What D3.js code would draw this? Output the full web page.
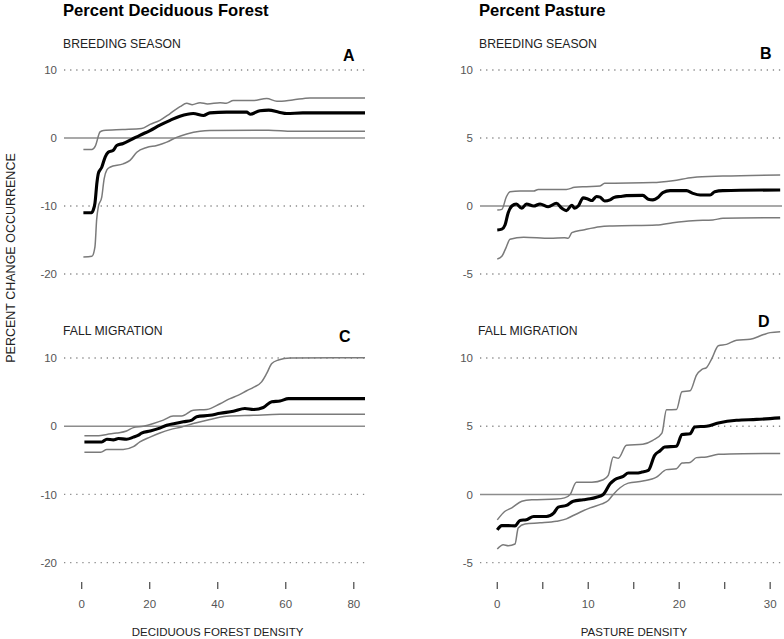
<!DOCTYPE html>
<html><head><meta charset="utf-8">
<script src="https://cdn.jsdelivr.net/npm/d3@7"></script>
<style>
html,body{margin:0;padding:0;background:#fff;}
text{font-family:"Liberation Sans",Arial,Helvetica,sans-serif;}
</style></head>
<body><svg id="chart" width="784" height="639"></svg>
<script>
// ---- data ----
const columnTitles = ["Percent Deciduous Forest", "Percent Pasture"];
const rowTitles = ["BREEDING SEASON", "FALL MIGRATION"];
const panelLetters = ["A", "B", "C", "D"];
const xAxisTitles = ["DECIDUOUS FOREST DENSITY", "PASTURE DENSITY"];
const yAxisTitle = "PERCENT CHANGE OCCURRENCE";
const forestYTicks = [-20, -10, 0, 10];
const pastureYTicks = [-5, 0, 5, 10];
const forestXTicks = [0, 20, 40, 60, 80];
const pastureXTickMarks = [0, 5, 10, 15, 20, 25, 30];
const pastureXTickLabels = [0, 10, 20, 30];

const aMean = [[0.5,-11.0],[2.9,-11.0],[3.4,-10.6],[3.9,-9.6],[4.5,-6.5],[4.9,-5.2],[5.9,-4.3],[6.9,-2.8],[7.8,-2.1],[9.3,-1.8],[10.3,-1.1],[12.2,-0.8],[14.7,-0.2],[17.1,0.4],[20.1,1.1],[23,1.9],[26,2.6],[28.9,3.2],[32.8,3.6],[35.8,3.3],[37.7,3.7],[42.6,3.8],[48.5,3.8],[49.5,3.5],[52.4,4.0],[55,4.1],[58,3.8],[60.3,3.6],[65,3.7],[83.3,3.7]];
const aUpper = [[0.5,-1.7],[3.0,-1.7],[4.0,-1.2],[5.4,0.9],[6.4,1.1],[12,1.25],[17.6,1.4],[20.1,2.0],[23,2.6],[26,3.6],[28.9,4.6],[30.9,5.1],[32.5,4.9],[34.8,5.2],[37,5.0],[40.7,5.2],[42.5,5.1],[44.6,5.5],[50.4,5.5],[54.4,5.8],[57.4,5.4],[62,5.6],[67.1,5.9],[83.3,5.9]];
const aLower = [[0.5,-17.5],[3.0,-17.4],[3.9,-16.0],[4.4,-12],[4.9,-10.1],[5.9,-8.7],[6.6,-6],[7.4,-4.7],[8.3,-4.3],[12.2,-3.8],[14.2,-3.3],[16.2,-2.1],[19.1,-1.4],[22.1,-1.1],[25,-0.6],[27.9,0.1],[30.9,0.6],[34.8,1.0],[37.7,1.1],[55,1.15],[62,1.0],[83.3,1.0]];

const bMean = [[0,-1.76],[0.5,-1.7],[0.85,-1.4],[1.2,-0.5],[1.6,0],[2.1,0.15],[2.7,-0.17],[3.2,0.15],[4.0,0],[4.7,0.15],[5.6,-0.05],[6.5,0.2],[7.1,-0.17],[7.6,-0.34],[8.2,0.05],[8.5,-0.17],[8.9,0],[9.45,0.6],[10.0,0.5],[10.4,0.4],[10.9,0.7],[11.3,0.65],[11.8,0.37],[12.4,0.45],[12.9,0.65],[13.5,0.7],[14.2,0.76],[16.0,0.78],[16.6,0.5],[17.1,0.45],[17.7,0.65],[18.2,0.98],[19.0,1.13],[20.8,1.13],[21.5,0.93],[22.3,0.81],[23.4,0.81],[23.9,1.05],[24.8,1.13],[31.1,1.18]];
const bUpper = [[0,-0.3],[0.5,-0.25],[1.0,0.68],[1.4,1.05],[2.5,1.1],[4.0,1.1],[4.5,1.22],[7.6,1.22],[8.5,1.37],[9.8,1.42],[11.3,1.47],[11.8,1.67],[17.1,1.72],[19.3,1.86],[21.5,2.1],[24.8,2.2],[31.1,2.28]];
const bLower = [[0,-3.9],[0.5,-3.7],[1.0,-3.0],[1.4,-2.45],[2.9,-2.3],[5.8,-2.38],[7.4,-2.33],[7.8,-2.38],[8.2,-1.96],[9.45,-1.76],[11.3,-1.52],[12.7,-1.47],[17.5,-1.4],[19.3,-1.23],[21.5,-1.08],[23.7,-1.03],[24.8,-0.9],[31.1,-0.86]];

const cMean = [[0.8,-2.3],[5.9,-2.3],[7.4,-1.9],[9.3,-2.0],[10.8,-1.8],[13.2,-1.9],[15.2,-1.6],[16.7,-1.3],[17.6,-1.0],[20.1,-0.7],[22.5,-0.35],[25,0.15],[27.4,0.4],[29.9,0.65],[32.4,0.9],[33.8,1.4],[37.7,1.6],[40.7,1.9],[44.6,2.2],[48,2.6],[50.5,2.45],[53.4,2.75],[55.9,3.6],[58.3,3.7],[60.8,4.05],[83.3,4.05]];
const cUpper = [[0.8,-1.4],[5,-1.4],[7.4,-1.2],[10.3,-1.0],[13.2,-0.7],[15.2,-0.2],[18.1,0],[21.1,0.4],[24,0.9],[26.9,1.5],[29.4,1.5],[32.8,2.35],[36.8,2.45],[40.7,3.3],[43.6,4.05],[46.1,4.55],[48.5,5.2],[50.5,5.7],[52.9,6.5],[54.4,7.75],[55.9,9.2],[57.8,9.7],[61.3,10.0],[83.3,10.05]];
const cLower = [[0.8,-3.8],[5.6,-3.8],[7.4,-3.4],[12.2,-3.4],[15.2,-3.0],[17.1,-2.3],[20.1,-1.6],[23,-1.0],[26,-0.5],[29.4,-0.1],[32.8,0.4],[37.7,1.0],[42.6,1.45],[50.5,1.6],[58.3,1.75],[83.3,1.75]];

const dMean = [[0,-2.6],[0.5,-2.28],[1.2,-2.28],[1.95,-2.3],[2.5,-1.9],[3.2,-1.85],[4.0,-1.62],[5.4,-1.62],[6.2,-1.37],[6.7,-0.93],[7.6,-0.8],[8.35,-0.49],[9.45,-0.39],[10.2,-0.32],[10.9,-0.2],[11.65,0],[12.4,0.78],[12.9,1.08],[13.85,1.32],[14.4,1.57],[15.3,1.57],[15.9,1.64],[16.6,1.76],[17.3,2.87],[17.9,3.2],[18.4,3.48],[19.7,3.53],[20.3,4.4],[21.2,4.45],[21.7,4.95],[23,5.0],[24.3,5.24],[26.3,5.44],[28.5,5.5],[31.1,5.61]];
const dUpper = [[0,-1.86],[0.85,-1.23],[1.6,-0.98],[2.7,-0.49],[3.8,-0.39],[6.5,-0.34],[7.4,-0.25],[8.0,0],[8.7,0.9],[10.4,0.9],[11.65,1.08],[12.2,1.4],[12.75,2.75],[13.3,2.65],[14.2,3.6],[16.0,3.68],[17.1,3.97],[18.1,4.5],[18.6,6.2],[19.7,6.23],[20.3,7.52],[21.2,7.6],[21.9,8.75],[22.5,9.17],[23,9.3],[23.6,9.98],[24.3,10.9],[25.2,11.0],[26.3,11.3],[27.8,11.37],[29.2,11.7],[30,11.86],[31.1,11.93]];
const dLower = [[0,-4.0],[0.66,-3.68],[1.2,-3.75],[1.95,-3.63],[2.3,-2.45],[3.04,-2.16],[4.7,-2.08],[6.5,-1.96],[7.6,-1.79],[8.35,-1.54],[9.1,-1.3],[10.2,-0.98],[11.5,-0.69],[12.2,-0.44],[12.75,0],[13.5,0.49],[14.4,0.83],[16.0,0.98],[17.5,1.27],[18.6,1.82],[19.7,1.89],[20.3,2.3],[21.2,2.35],[21.9,2.7],[23,2.75],[24.3,2.94],[27,2.99],[31.1,3.0]];

// ---- layout ----
const svg = d3.select("#chart");
const forestX = d3.scaleLinear().domain([-5.2, 83.3]).range([64, 365]);
const pastureX = d3.scaleLinear().domain([-1.9, 31.3]).range([480, 782]);
const topRange = [274, 70], botRange = [562.7, 358];

const panels = [
  {x: forestX, y: d3.scaleLinear().domain([-20,10]).range(topRange), ticks: forestYTicks, mean: aMean, up: aUpper, lo: aLower, letter: panelLetters[0], lx: 343, ly: 60.5, row: rowTitles[0], rx: 63, ry: 48},
  {x: pastureX, y: d3.scaleLinear().domain([-5,10]).range(topRange), ticks: pastureYTicks, mean: bMean, up: bUpper, lo: bLower, letter: panelLetters[1], lx: 760, ly: 58.5, row: rowTitles[0], rx: 479, ry: 48},
  {x: forestX, y: d3.scaleLinear().domain([-20,10]).range(botRange), ticks: forestYTicks, mean: cMean, up: cUpper, lo: cLower, letter: panelLetters[2], lx: 339, ly: 341.5, row: rowTitles[1], rx: 63, ry: 335},
  {x: pastureX, y: d3.scaleLinear().domain([-5,10]).range(botRange), ticks: pastureYTicks, mean: dMean, up: dUpper, lo: dLower, letter: panelLetters[3], lx: 758, ly: 326.5, row: rowTitles[1], rx: 478, ry: 335}
];

panels.forEach(p => {
  const g = svg.append("g");
  const [x0, x1] = p.x.range();
  g.selectAll("line.grid").data(p.ticks.filter(t => t !== 0)).join("line")
    .attr("x1", x0).attr("x2", x1)
    .attr("y1", d => p.y(d)).attr("y2", d => p.y(d))
    .attr("stroke", "#8a8a8a").attr("stroke-width", 1.3)
    .attr("stroke-dasharray", "1.3 4.8").attr("stroke-linecap", "butt");
  g.append("line").attr("x1", x0).attr("x2", x1)
    .attr("y1", p.y(0)).attr("y2", p.y(0))
    .attr("stroke", "#8c8c8c").attr("stroke-width", 1.5);
  g.selectAll("text.yt").data(p.ticks).join("text")
    .attr("x", x0 - 7).attr("y", d => p.y(d)).attr("dy", "0.36em")
    .attr("text-anchor", "end").attr("font-size", 11.5).attr("fill", "#555")
    .text(d => d);
  const line = d3.line().x(d => p.x(d[0])).y(d => p.y(d[1])).curve(d3.curveMonotoneX);
  [p.up, p.lo].forEach(s => g.append("path").attr("d", line(s))
    .attr("fill", "none").attr("stroke", "#7a7a7a").attr("stroke-width", 1.5));
  g.append("path").attr("d", line(p.mean)).attr("fill", "none")
    .attr("stroke", "#000").attr("stroke-width", 3.1).attr("stroke-linejoin", "round");
  g.append("text").attr("x", p.rx).attr("y", p.ry).attr("font-size", 12.2).attr("fill", "#222").text(p.row);
  g.append("text").attr("x", p.lx).attr("y", p.ly).attr("font-size", 16).attr("font-weight", "bold").attr("fill", "#000").text(p.letter);
});

svg.append("text").attr("x", 63).attr("y", 16).attr("font-size", 16.6).attr("font-weight", "bold").text(columnTitles[0]);
svg.append("text").attr("x", 479).attr("y", 16).attr("font-size", 16.6).attr("font-weight", "bold").text(columnTitles[1]);

function xAxis(scale, marks, labels, title) {
  const g = svg.append("g");
  g.selectAll("line").data(marks).join("line")
    .attr("x1", d => scale(d)).attr("x2", d => scale(d))
    .attr("y1", 582).attr("y2", 589).attr("stroke", "#555").attr("stroke-width", 1.3);
  g.selectAll("text.xt").data(labels).join("text")
    .attr("x", d => scale(d)).attr("y", 607.5).attr("text-anchor", "middle")
    .attr("font-size", 11.5).attr("fill", "#555").text(d => d);
  const mid = (scale.range()[0] + scale.range()[1]) / 2;
  g.append("text").attr("x", mid + 3).attr("y", 636).attr("text-anchor", "middle")
    .attr("font-size", 11.5).attr("fill", "#222").text(title);
}
xAxis(forestX, forestXTicks, forestXTicks, xAxisTitles[0]);
xAxis(pastureX, pastureXTickMarks, pastureXTickLabels, xAxisTitles[1]);

svg.append("text").attr("transform", "translate(14.5,258) rotate(-90)")
  .attr("text-anchor", "middle").attr("font-size", 12.5).attr("fill", "#222").text(yAxisTitle);
</script></body></html>
